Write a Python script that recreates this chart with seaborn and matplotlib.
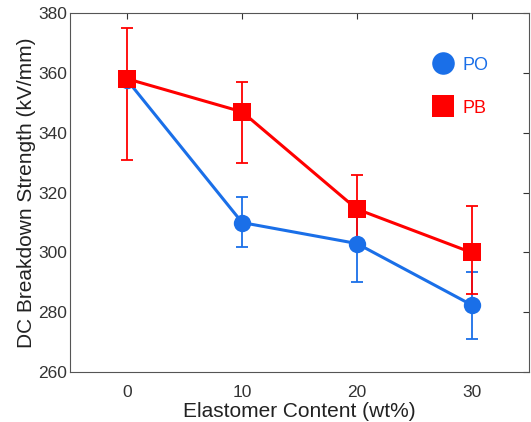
import numpy as np
import pandas as pd
import matplotlib
matplotlib.use('Agg')
import matplotlib.pyplot as plt
import seaborn as sns

content = [0, 10, 20, 30]
po_mean = [357.5, 310, 303, 282.5]
po_low = [357.5, 302, 290, 271]
po_high = [357.5, 318.5, 316, 293.5]
pb_mean = [358, 347, 314.5, 300]
pb_low = [331, 330, 302, 286]
pb_high = [375, 357, 326, 315.5]

blue = '#1a6fe8'
red = '#ff0000'

sns.set_style('white')
plt.rcParams['font.family'] = ['Liberation Sans', 'DejaVu Sans']

df = pd.DataFrame({
    'x': content * 2,
    'y': po_mean + pb_mean,
    'series': ['PO'] * 4 + ['PB'] * 4,
})

fig = plt.figure(figsize=(5.31, 4.22), dpi=100)
ax = fig.add_axes([0.132, 0.118, 0.864, 0.851])

sns.lineplot(data=df, x='x', y='y', hue='series', style='series',
             palette={'PO': blue, 'PB': red}, markers={'PO': 'o', 'PB': 's'},
             dashes=False, markersize=12.5, markeredgewidth=0, linewidth=2.2,
             hue_order=['PO', 'PB'], ax=ax, zorder=3)

for mean, lo, hi, c in [(po_mean, po_low, po_high, blue), (pb_mean, pb_low, pb_high, red)]:
    mean = np.array(mean)
    err = [mean - np.array(lo), np.array(hi) - mean]
    ax.errorbar(content, mean, yerr=err, fmt='none', ecolor=c, elinewidth=1.3,
                capsize=4, capthick=1.3, zorder=2)

ax.set_xlim(-5, 35)
ax.set_ylim(260, 380)
ax.set_xticks(content)
ax.set_yticks(np.arange(260, 381, 20))
ax.tick_params(direction='in', top=True, right=True, length=4, width=0.8,
               labelsize=12.5, colors='#333333', labelcolor='#333333')
ax.tick_params(axis='x', pad=9)
ax.tick_params(axis='y', pad=2)
for s in ax.spines.values():
    s.set_color('#555555')
    s.set_linewidth(0.8)
ax.set_xlabel('Elastomer Content (wt%)', fontsize=15, color='#222222', labelpad=2)
ax.set_ylabel('DC Breakdown Strength (kV/mm)', fontsize=15, color='#222222', labelpad=2)

leg = ax.legend(loc='center left', bbox_to_anchor=(0.758, 0.795), frameon=False,
                fontsize=13, labelspacing=1.45, handlelength=1.0, handletextpad=0.6,
                markerscale=1.3)
for h in leg.legend_handles:
    h.set_linestyle('none')
for t, c in zip(leg.get_texts(), [blue, red]):
    t.set_color(c)

fig.savefig('out.png', dpi=100)
